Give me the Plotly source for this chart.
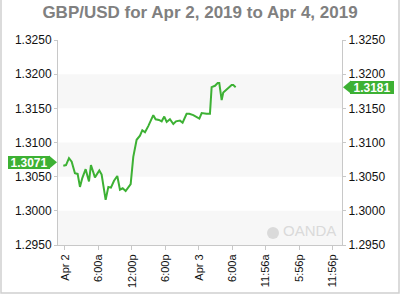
import plotly.graph_objects as go

title_text = "GBP/USD for Apr 2, 2019 to Apr 4, 2019"

times = [
    "2019-04-01 23:42", "2019-04-02 00:11", "2019-04-02 00:43", "2019-04-02 01:12",
    "2019-04-02 01:47", "2019-04-02 02:16", "2019-04-02 02:41", "2019-04-02 03:06",
    "2019-04-02 03:42", "2019-04-02 04:18", "2019-04-02 04:39", "2019-04-02 05:22",
    "2019-04-02 06:09", "2019-04-02 06:34", "2019-04-02 07:17", "2019-04-02 07:46",
    "2019-04-02 08:14", "2019-04-02 08:47", "2019-04-02 09:22", "2019-04-02 09:51",
    "2019-04-02 10:20", "2019-04-02 10:52", "2019-04-02 11:46", "2019-04-02 12:14",
    "2019-04-02 12:50", "2019-04-02 13:26", "2019-04-02 13:51", "2019-04-02 14:20",
    "2019-04-02 14:55", "2019-04-02 15:49", "2019-04-02 16:14", "2019-04-02 16:50",
    "2019-04-02 17:19", "2019-04-02 17:47", "2019-04-02 18:13", "2019-04-02 18:48",
    "2019-04-02 19:24", "2019-04-02 19:53", "2019-04-02 20:36", "2019-04-02 21:04",
    "2019-04-02 21:47", "2019-04-02 22:16", "2019-04-02 22:59", "2019-04-02 23:35",
    "2019-04-03 00:04", "2019-04-03 00:29", "2019-04-03 00:54", "2019-04-03 01:22",
    "2019-04-03 01:58", "2019-04-03 02:16", "2019-04-03 02:52", "2019-04-03 03:21",
    "2019-04-03 03:38", "2019-04-03 04:04", "2019-04-03 04:21", "2019-04-03 05:22",
    "2019-04-03 05:51", "2019-04-03 06:09", "2019-04-03 06:34",
]
rates = [
    1.3066, 1.3067, 1.3077, 1.3072,
    1.3055, 1.3054, 1.3035, 1.3048,
    1.3061, 1.3043, 1.3067, 1.3049,
    1.3059, 1.3053, 1.3016, 1.3035,
    1.3034, 1.3044, 1.3051, 1.3031,
    1.3033, 1.3029, 1.3039, 1.3079,
    1.3104, 1.3110, 1.3118, 1.3115,
    1.3124, 1.3140, 1.3134, 1.3133,
    1.3131, 1.3138, 1.3130, 1.3134,
    1.3127, 1.3131, 1.3132, 1.3129,
    1.3142, 1.3142, 1.3140, 1.3137,
    1.3135, 1.3143, 1.3142, 1.3142,
    1.3142, 1.3181, 1.3183, 1.3187,
    1.3187, 1.3162, 1.3173, 1.3180,
    1.3184, 1.3184, 1.3181,
]

open_label = 1.3071
last_label = 1.3181

x_tickvals = [
    "2019-04-02 00:00", "2019-04-02 06:00", "2019-04-02 12:00", "2019-04-02 18:00",
    "2019-04-03 00:00", "2019-04-03 06:00", "2019-04-03 11:56", "2019-04-03 17:56",
    "2019-04-03 23:56",
]
x_ticktext = ["Apr 2", "6:00a", "12:00p", "6:00p", "Apr 3", "6:00a", "11:56a", "5:56p", "11:56p"]
x_range = ["2019-04-01 22:45", "2019-04-04 01:37"]

y_tickvals = [1.2950, 1.3000, 1.3050, 1.3100, 1.3150, 1.3200, 1.3250]
y_range = [1.2950, 1.3250]
bands = [(1.2950, 1.3000), (1.3050, 1.3100), (1.3150, 1.3200)]

GREEN = "#3db134"
AXIS = "#c8c8c8"
TICKFONT = dict(family="Liberation Sans, Arial, sans-serif", size=12, color="#111111")

fig = go.Figure()
fig.add_trace(go.Scatter(x=times, y=rates, mode="lines",
                         line=dict(color=GREEN, width=2), hoverinfo="skip",
                         showlegend=False))
fig.add_trace(go.Scatter(x=times, y=rates, mode="lines", yaxis="y2",
                         line=dict(color="rgba(0,0,0,0)", width=0), hoverinfo="skip",
                         showlegend=False))

shapes = []
for lo, hi in bands:
    shapes.append(dict(type="rect", xref="paper", yref="y", x0=0, x1=1, y0=lo, y1=hi,
                       fillcolor="#f7f7f7", line=dict(width=0), layer="below"))

# outer frame (left, right, bottom)
shapes.append(dict(type="path", xref="paper", yref="paper", xsizemode="pixel", ysizemode="pixel",
                   xanchor=0, yanchor=0,
                   path="M -57,260 L -57,-48 L 341,-48 L 341,260",
                   line=dict(color="#d0d0d0", width=1.5)))

# badge arrows
shapes.append(dict(type="path", xref="paper", yref="y", xsizemode="pixel", ysizemode="pixel",
                   xanchor=0, yanchor=open_label,
                   path="M -9,-6.7 L -1,0 L -9,6.7 Z", fillcolor=GREEN, line=dict(width=0)))
shapes.append(dict(type="path", xref="paper", yref="y", xsizemode="pixel", ysizemode="pixel",
                   xanchor=1, yanchor=last_label,
                   path="M 9,-6.7 L 1,0 L 9,6.7 Z", fillcolor=GREEN, line=dict(width=0)))

# OANDA logo circle
shapes.append(dict(type="circle", xref="paper", yref="paper", xsizemode="pixel", ysizemode="pixel",
                   xanchor=1, yanchor=0, x0=-75, x1=-63, y0=6, y1=18,
                   fillcolor="#dadada", line=dict(width=0)))

badge_font = dict(family="Liberation Sans, Arial, sans-serif", size=12, color="white")
annotations = [
    dict(xref="paper", yref="y", x=0, y=open_label, xanchor="right", yanchor="middle",
         xshift=-8, text="<b>%.4f</b>" % open_label, showarrow=False, bgcolor=GREEN,
         font=badge_font, width=42, height=13, borderpad=0, borderwidth=0, align="center"),
    dict(xref="paper", yref="y", x=1, y=last_label, xanchor="left", yanchor="middle",
         xshift=8, text="<b>%.4f</b>" % last_label, showarrow=False, bgcolor=GREEN,
         font=badge_font, width=44, height=13, borderpad=0, borderwidth=0, align="center"),
    dict(xref="paper", yref="paper", x=1, y=0, xanchor="right", yanchor="bottom",
         xshift=-4, yshift=4, text="OANDA", showarrow=False,
         font=dict(family="Liberation Sans, Arial, sans-serif", size=15, color="#dadada")),
]

fig.update_layout(
    width=400, height=300,
    margin=dict(l=58, r=58, t=40, b=50),
    paper_bgcolor="white", plot_bgcolor="white",
    title=dict(text="<b>%s</b>" % title_text, x=0.5, xanchor="center", y=0.96, yanchor="middle",
               font=dict(family="Liberation Sans, Arial, sans-serif", size=17, color="#808080")),
    xaxis=dict(type="date", range=x_range, tickmode="array", tickvals=x_tickvals,
               ticktext=x_ticktext, tickangle=-90, showgrid=False, zeroline=False,
               showline=True, linecolor=AXIS, linewidth=1, ticks="outside", ticklen=4,
               tickcolor=AXIS, tickfont=dict(family="Liberation Sans, Arial, sans-serif",
                                             size=11, color="#111111")),
    yaxis=dict(range=y_range, tickmode="array", tickvals=y_tickvals, tickformat=".4f",
               showgrid=False, zeroline=False, showline=True, linecolor=AXIS, linewidth=1,
               ticks="outside", ticklen=3, tickcolor=AXIS, tickfont=TICKFONT),
    yaxis2=dict(range=y_range, overlaying="y", side="right", tickmode="array",
                tickvals=y_tickvals, tickformat=".4f", showgrid=False, zeroline=False,
                showline=True, linecolor=AXIS, linewidth=1, ticks="outside", ticklen=3,
                tickcolor=AXIS, tickfont=TICKFONT),
    shapes=shapes,
    annotations=annotations,
    showlegend=False,
)

fig.write_html("out.html")
